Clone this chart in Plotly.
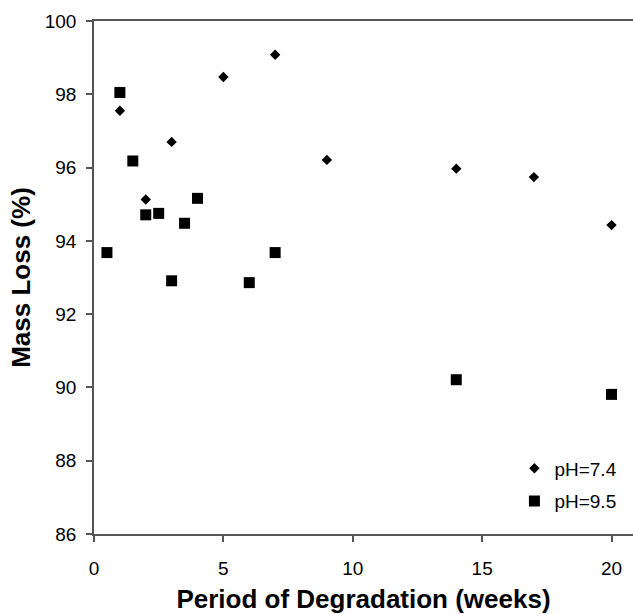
import plotly.graph_objects as go

weeks_74 = [1, 2, 3, 5, 7, 9, 14, 17, 20]
loss_74 = [97.55, 95.13, 96.70, 98.47, 99.08, 96.21, 95.97, 95.74, 94.43]

weeks_95 = [0.5, 1, 1.5, 2, 2.5, 3, 3.5, 4, 6, 7, 14, 20]
loss_95 = [93.68, 98.05, 96.18, 94.71, 94.75, 92.91, 94.48, 95.16, 92.86, 93.68, 90.21, 89.81]

x_ticks = [0, 5, 10, 15, 20]
y_ticks = [86, 88, 90, 92, 94, 96, 98, 100]

FONT = "Liberation Sans, Arial, Helvetica, sans-serif"
AX = "#555555"

fig = go.Figure()
fig.add_trace(go.Scatter(x=weeks_74, y=loss_74, mode="markers", name="pH=7.4",
                         legendgroup="a",
                         marker=dict(symbol="diamond", size=8, color="black")))
fig.add_trace(go.Scatter(x=weeks_95, y=loss_95, mode="markers", name="pH=9.5",
                         legendgroup="b",
                         marker=dict(symbol="square", size=11, color="black")))

fig.update_layout(
    width=633, height=614,
    margin=dict(l=94, r=0, t=21, b=80),
    plot_bgcolor="white", paper_bgcolor="white",
    font=dict(family=FONT, color="black", size=19),
    showlegend=True,
    legend=dict(x=0.78, y=0.165, xanchor="left", yanchor="top",
                font=dict(size=19, family=FONT), tracegroupgap=5,
                bgcolor="rgba(0,0,0,0)", itemwidth=30),
    xaxis=dict(range=[0, 20.83], tickvals=x_ticks, showgrid=False, zeroline=False,
               showline=True, linecolor=AX, linewidth=1.5, mirror=True,
               ticks="outside", ticklen=6, tickcolor=AX, tickwidth=1.5,
               tickfont=dict(size=19), ticklabelstandoff=10,
               title=dict(text="<b>Period of Degradation (weeks)</b>",
                          font=dict(size=26), standoff=16)),
    yaxis=dict(range=[86, 100], tickvals=y_ticks, showgrid=False, zeroline=False,
               showline=True, linecolor=AX, linewidth=1.5,
               ticks="outside", ticklen=6, tickcolor=AX, tickwidth=1.5,
               tickfont=dict(size=19), ticklabelstandoff=6,
               title=dict(text="<b>Mass Loss (%)</b>", font=dict(size=26), standoff=7)),
)

fig.write_html("out.html")
